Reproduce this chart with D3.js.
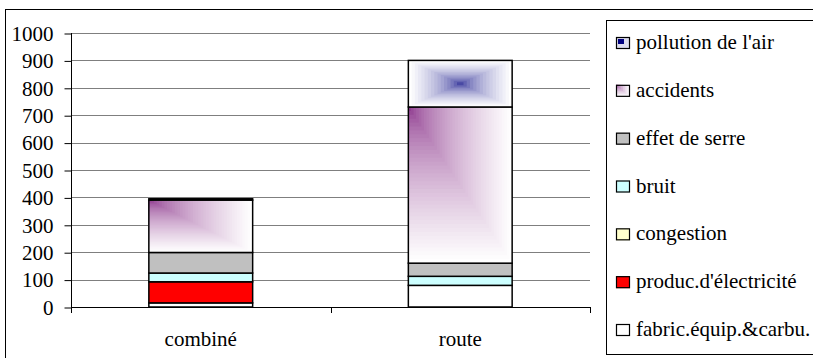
<!DOCTYPE html>
<html>
<head>
<meta charset="utf-8">
<script src="https://cdn.jsdelivr.net/npm/d3@7"></script>
<style>
  #chart text { font-family: "Liberation Serif", "Times New Roman", Tinos, serif !important; }
</style>
</head>
<body style="margin:0;background:#fff">
<svg id="chart" width="813" height="358" style="display:block" font-family="Liberation Serif"></svg>
<script>
// Coûts par mode de transport (empilés, du bas vers le haut)
const categories = ["combiné", "route"];
const fabricEquip = [15, 79];
const producElec = [77, 0];
const congestion = [0, 0];
const bruit = [32, 33];
const effetSerre = [75, 48];
const accidents = [191, 570];
const pollutionAir = [5, 170];
const yTicks = [0, 100, 200, 300, 400, 500, 600, 700, 800, 900, 1000];

const seriesList = [
  { key: "fabric", label: "fabric.équip.&carbu.", values: fabricEquip, fill: "#ffffff" },
  { key: "elec", label: "produc.d'électricité", values: producElec, fill: "#ff0000" },
  { key: "congestion", label: "congestion", values: congestion, fill: "#ffffcc" },
  { key: "bruit", label: "bruit", values: bruit, fill: "#ccffff" },
  { key: "serre", label: "effet de serre", values: effetSerre, fill: "#c0c0c0" },
  { key: "accidents", label: "accidents", values: accidents, fill: "corner" },
  { key: "pollution", label: "pollution de l'air", values: pollutionAir, fill: "center" }
];

const FONT = '"Liberation Serif", "Times New Roman", Tinos, serif';
const FSIZE = 21;
const svg = d3.select("#chart");

function serif(sel) {
  return sel.attr("font-family", "Liberation Serif")
    .attr("font-size", FSIZE)
    .style("font-family", FONT)
    .style("font-size", FSIZE + "px");
}

// Cadre extérieur du graphique
svg.append("rect")
  .attr("x", 5.5).attr("y", 9.5).attr("width", 840).attr("height", 370)
  .attr("fill", "#fff").attr("stroke", "#000").attr("stroke-width", 1);

const plot = { left: 71, right: 590, top: 33, bottom: 307 };

const x = d3.scaleBand()
  .domain(categories)
  .range([plot.left, plot.right])
  .paddingInner(0.6)
  .paddingOuter(0.3);

const y = d3.scaleLinear()
  .domain([0, 1000])
  .range([plot.bottom, plot.top]);

// Quadrillage horizontal
svg.append("g")
  .selectAll("line")
  .data(yTicks.filter(d => d > 0))
  .join("line")
  .attr("x1", plot.left).attr("x2", plot.right)
  .attr("y1", d => Math.round(y(d)) + 0.5)
  .attr("y2", d => Math.round(y(d)) + 0.5)
  .attr("stroke", "#7f7f7f").attr("stroke-width", 1);

// Axe vertical
const yAxis = d3.axisLeft(y)
  .tickValues(yTicks)
  .tickSize(7)
  .tickPadding(11)
  .tickFormat(d3.format("d"));

const gy = svg.append("g")
  .attr("transform", `translate(${plot.left + 0.5},0.5)`)
  .call(yAxis);
gy.attr("font-family", "Liberation Serif").attr("font-size", FSIZE);
gy.select(".domain").remove();
gy.selectAll(".tick line").attr("stroke", "#000");
gy.selectAll(".tick text").call(serif).attr("fill", "#000");
svg.append("line")
  .attr("x1", plot.left + 0.5).attr("x2", plot.left + 0.5)
  .attr("y1", plot.top).attr("y2", plot.bottom + 6)
  .attr("stroke", "#000");

// Axe horizontal
svg.append("line")
  .attr("x1", plot.left).attr("x2", plot.right)
  .attr("y1", Math.round(y(0)) + 0.5).attr("y2", Math.round(y(0)) + 0.5)
  .attr("stroke", "#000");
const boundaries = [plot.left, (plot.left + plot.right) / 2, plot.right];
svg.append("g").selectAll("line")
  .data(boundaries.slice(1))
  .join("line")
  .attr("x1", d => Math.round(d) + 0.5).attr("x2", d => Math.round(d) + 0.5)
  .attr("y1", plot.bottom).attr("y2", plot.bottom + 6)
  .attr("stroke", "#000");

svg.append("g").selectAll("text")
  .data(categories)
  .join("text")
  .attr("x", d => x(d) + x.bandwidth() / 2)
  .attr("y", 346)
  .attr("text-anchor", "middle")
  .call(serif)
  .text(d => d);

// Dégradés en paliers (rectangles emboîtés)
const purple = "#802080";
const navy = "#000080";
function cornerGradient(g, x0, y0, w, h, steps) {
  const col = d3.interpolateRgb(purple, "#ffffff");
  for (let i = steps; i >= 1; i--) {
    const t = i / steps;
    g.append("rect")
      .attr("x", x0).attr("y", y0)
      .attr("width", w * t).attr("height", h * t)
      .attr("fill", col(Math.pow(t, 0.55)));
  }
}
function centerGradient(g, x0, y0, w, h, steps) {
  const col = d3.interpolateRgb(navy, "#ffffff");
  const cx = x0 + w / 2, cy = y0 + h / 2;
  for (let i = steps; i >= 1; i--) {
    const t = i / steps;
    g.append("rect")
      .attr("x", cx - w * t / 2).attr("y", cy - h * t / 2)
      .attr("width", w * t).attr("height", h * t)
      .attr("fill", col(Math.pow(t, 0.45)));
  }
}

// Barres empilées
const stack = d3.stack()
  .keys(seriesList.map(s => s.key))
  .value((row, key) => row[key]);
const rows = categories.map((c, i) => {
  const r = { cat: c };
  seriesList.forEach(s => { r[s.key] = s.values[i]; });
  return r;
});
const stacked = stack(rows);

const bars = svg.append("g");
stacked.forEach((layer, li) => {
  const s = seriesList[li];
  layer.forEach(seg => {
    const v = seg[1] - seg[0];
    if (v <= 0) return;
    const bx = x(seg.data.cat);
    const bw = x.bandwidth();
    const y1 = y(seg[1]), y0 = y(seg[0]);
    const h = y0 - y1;
    const g = bars.append("g");
    if (s.fill === "corner") {
      cornerGradient(g, bx, y1, bw, h, 40);
    } else if (s.fill === "center") {
      centerGradient(g, bx, y1, bw, h, 16);
    } else {
      g.append("rect").attr("x", bx).attr("y", y1)
        .attr("width", bw).attr("height", h).attr("fill", s.fill);
    }
    g.append("rect").attr("x", bx).attr("y", y1)
      .attr("width", bw).attr("height", h)
      .attr("fill", "none").attr("stroke", "#000").attr("stroke-width", 1.5);
  });
});

// Légende
svg.append("rect")
  .attr("x", 606.5).attr("y", 20.5).attr("width", 300).attr("height", 334)
  .attr("fill", "#fff").attr("stroke", "#000").attr("stroke-width", 1);

const legendItems = seriesList.slice().reverse();
const legendY = d3.scalePoint()
  .domain(legendItems.map(s => s.key))
  .range([43, 330]);

const lg = svg.append("g");
legendItems.forEach(s => {
  const cy = legendY(s.key);
  const sx = 616, sw = 14, sh = 12, sy = cy - sh / 2;
  const g = lg.append("g");
  if (s.fill === "corner") {
    cornerGradient(g, sx, sy, sw, sh, 8);
  } else if (s.fill === "center") {
    g.append("rect").attr("x", sx).attr("y", sy).attr("width", sw).attr("height", sh).attr("fill", "#dcdcee");
    g.append("rect").attr("x", sx + 2).attr("y", sy + 2).attr("width", 6).attr("height", 5).attr("fill", navy);
  } else {
    g.append("rect").attr("x", sx).attr("y", sy).attr("width", sw).attr("height", sh).attr("fill", s.fill);
  }
  g.append("rect").attr("x", sx + 0.5).attr("y", sy + 0.5).attr("width", sw - 1).attr("height", sh - 1)
    .attr("fill", "none").attr("stroke", "#000").attr("stroke-width", 1.2);
  lg.append("text")
    .attr("x", 636).attr("y", cy + 6)
    .call(serif)
    .text(s.label);
});
</script>
</body>
</html>
